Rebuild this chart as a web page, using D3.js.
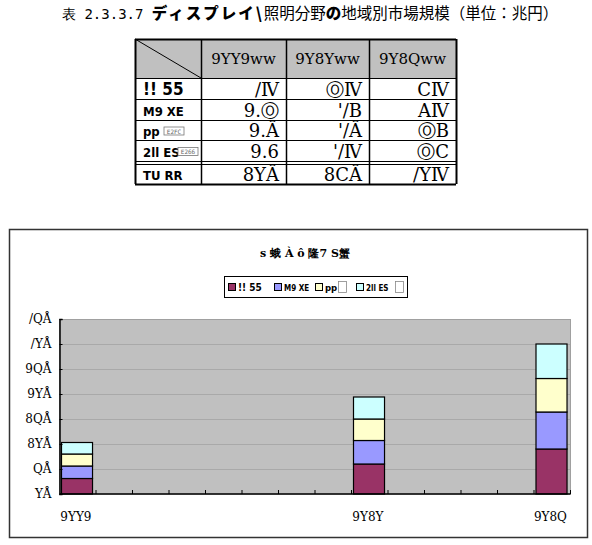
<!DOCTYPE html>
<html><head><meta charset="utf-8">
<script src="https://cdn.jsdelivr.net/npm/d3@7"></script>
<style>body{margin:0;background:#fff}svg{display:block}</style>
</head><body>
<script>
// ---- data ----
const years = ["2002","2003","2004","2005","2006","2007","2008","2009","2010","2011","2012","2013","2014","2015"];
const dataYears = ["2002","2010","2015"];
const xTickLabels = ["9YY9","9Y8Y","9Y8Q"];
const seriesNames = ["!! 55","M9 XE","pp","2ll ES"];
const seriesColors = ["#993366","#9999ff","#ffffcc","#ccffff"];
const s1 = [3.1, 6.0, 9.0];
const s2 = [2.5, 4.7, 7.4];
const s3 = [2.4, 4.3, 6.7];
const s4 = [2.3, 4.4, 6.9];
const yTicks = [0,5,10,15,20,25,30,35];
const yTickLabels = ["YÅ","QÅ","8YÅ","8QÅ","9YÅ","9QÅ","/YÅ","/QÅ"];
const tableHeader = ["9YY9ww","9Y8Yww","9Y8Qww"];
const rowLabels = ["!! 55","M9 XE","pp","2ll ES","TU RR"];
const tableCells = [
  ["/Ⅳ","ⓄⅣ","CⅣ"],
  ["9.Ⓞ","'/B","AⅣ"],
  ["9.Ȃ","'/Ȃ","ⓄB"],
  ["9.6","'/Ⅳ","ⓄC"],
  ["8YȂ","8CȂ","/YⅣ"]
];

const W=592,H=545;
const svg=d3.select("body").append("svg").attr("width",W).attr("height",H);

// ---- title ----
const t=svg.append("text").attr("x",62).attr("y",19).attr("font-size",15.5)
  .attr("font-family","'Noto Sans CJK JP', sans-serif").attr("fill","#000");
t.append("tspan").attr("font-family","'DejaVu Sans Mono', monospace").attr("font-size",14).text("表 2.3.3.7  ");
t.append("tspan").attr("font-weight","900").attr("letter-spacing",2).text("ディスプレイ\\");
t.append("tspan").text("照明分野");
t.append("tspan").attr("font-weight","900").text("の");
t.append("tspan").text("地域別市場規模（単位：兆円）");

// ---- table ----
const colX=[135,201,286,369,456];
const rowY=[39,78,99,120,140,161,164,184];
const tg=svg.append("g");
tg.append("rect").attr("x",colX[0]).attr("y",rowY[0]).attr("width",colX[4]-colX[0]).attr("height",rowY[1]-rowY[0]).attr("fill","#c0c0c0");
tg.append("line").attr("x1",colX[0]).attr("y1",rowY[0]).attr("x2",colX[1]).attr("y2",rowY[1]).attr("stroke","#000").attr("stroke-width",1);
rowY.forEach((yy,i)=>{
  tg.append("line").attr("x1",colX[0]).attr("x2",colX[4]).attr("y1",yy+0.5).attr("y2",yy+0.5)
    .attr("stroke","#000").attr("stroke-width",(i==0||i==7)?2:1);
});
colX.forEach((xx,i)=>{
  tg.append("line").attr("x1",xx+0.5).attr("x2",xx+0.5).attr("y1",rowY[0]).attr("y2",rowY[7])
    .attr("stroke","#000").attr("stroke-width",(i==0||i==4)?2:1.5);
});
tableHeader.forEach((h,i)=>{
  tg.append("text").attr("x",(colX[i+1]+colX[i+2])/2).attr("y",64).attr("text-anchor","middle")
    .attr("font-family","'DejaVu Serif', serif").attr("font-size",15).text(h);
});
const rowMid=[(78+99)/2,(99+120)/2,(120+140)/2,(140+161)/2,(164+184)/2];
rowLabels.forEach((r,i)=>{
  tg.append("text").attr("x",143).attr("y",rowMid[i]+6)
    .attr("font-family","'DejaVu Sans Condensed', 'DejaVu Sans', sans-serif").attr("font-weight","bold")
    .attr("font-size",i==0?17:13).text(r);
});
[[2,"E2FC",164],[3,"E266",178]].forEach(([ri,code,xx])=>{
  tg.append("rect").attr("x",xx).attr("y",rowMid[ri]-3).attr("width",20).attr("height",8).attr("fill","#fff").attr("stroke","#777").attr("stroke-width",0.8);
  tg.append("text").attr("x",xx+10).attr("y",rowMid[ri]+3.5).attr("text-anchor","middle").attr("font-size",6).attr("font-family","'DejaVu Sans Mono', monospace").attr("fill","#666").text(code);
});
tableCells.forEach((row,ri)=>{
  row.forEach((c,ci)=>{
    tg.append("text").attr("x",colX[ci+2]-7).attr("y",rowMid[ri]+7).attr("text-anchor","end")
      .attr("font-family","'DejaVu Serif', serif").attr("font-size",18).text(c);
  });
});

// ---- chart ----
svg.append("rect").attr("x",9.5).attr("y",229.5).attr("width",578).attr("height",308)
  .attr("fill","#fff").attr("stroke","#333").attr("stroke-width",1.5);
svg.append("text").attr("x",305).attr("y",257).attr("text-anchor","middle").attr("font-size",11)
  .attr("font-family","'DejaVu Serif', serif").attr("font-weight","bold").text("s 蛾 À ô 隆7 S蟹");

const lg=svg.append("g");
lg.append("rect").attr("x",224.5).attr("y",276.5).attr("width",183).attr("height",21).attr("fill","#fff").attr("stroke","#000");
const legX=[228,274,315,356];
const legFont=[10,8,9.5,8];
seriesNames.forEach((n,i)=>{
  lg.append("rect").attr("x",legX[i]+0.5).attr("y",283.5).attr("width",7).attr("height",7).attr("fill",seriesColors[i]).attr("stroke","#000");
  lg.append("text").attr("x",legX[i]+10).attr("y",291).attr("font-size",legFont[i])
    .attr("font-family","'DejaVu Sans Condensed', sans-serif").attr("font-weight","bold").text(n);
});
[338,395].forEach(xx=>{
  lg.append("rect").attr("x",xx+0.5).attr("y",281.5).attr("width",8).attr("height",11).attr("fill","#fff").attr("stroke","#888").attr("stroke-width",0.8);
});

const pLeft=59.5,pRight=570.5,pTop=319,pBottom=494;
const x=d3.scaleBand().domain(years).range([pLeft,pRight]).padding(0);
const y=d3.scaleLinear().domain([0,35]).range([pBottom,pTop]);
svg.append("rect").attr("x",pLeft).attr("y",pTop).attr("width",pRight-pLeft).attr("height",pBottom-pTop).attr("fill","#c0c0c0");
svg.append("g").selectAll("line").data(yTicks.slice(1,-1)).join("line")
  .attr("x1",pLeft).attr("x2",pRight).attr("y1",d=>Math.round(y(d))+0.5).attr("y2",d=>Math.round(y(d))+0.5)
  .attr("stroke","#a9a9a9").attr("stroke-width",1);
svg.append("rect").attr("x",pLeft).attr("y",pTop+0.5).attr("width",pRight-pLeft).attr("height",pBottom-pTop-0.5)
  .attr("fill","none").attr("stroke","#a0a0a0").attr("stroke-width",1);

const stackData=dataYears.map((yr,i)=>({year:yr,a:s1[i],b:s2[i],c:s3[i],d:s4[i]}));
const stack=d3.stack().keys(["a","b","c","d"])(stackData);
const bw=x.bandwidth();
svg.append("g").selectAll("g").data(stack).join("g").attr("fill",(d,i)=>seriesColors[i])
  .selectAll("rect").data(d=>d).join("rect")
  .attr("x",d=>x(d.data.year)+2).attr("width",bw*0.85)
  .attr("y",d=>y(d[1])).attr("height",d=>y(d[0])-y(d[1]))
  .attr("stroke","#000").attr("stroke-width",1.2);

const yAxis=d3.axisLeft(y).tickValues(yTicks).tickSize(-3).tickFormat((d,i)=>yTickLabels[i]).tickPadding(8);
const ya=svg.append("g").attr("transform",`translate(${pLeft},0)`).call(yAxis);
ya.select(".domain").attr("stroke","#000").attr("stroke-width",1.5);
ya.selectAll("text").attr("font-family","'DejaVu Serif', serif").attr("font-size",12).attr("fill","#000");

const xAxisG=svg.append("g").attr("transform",`translate(0,${pBottom})`);
xAxisG.append("line").attr("x1",pLeft).attr("x2",pRight).attr("y1",0).attr("y2",0).attr("stroke","#000").attr("stroke-width",1.5);
xAxisG.selectAll("line.t").data(years.slice(1)).join("line").attr("class","t")
  .attr("x1",d=>x(d)).attr("x2",d=>x(d)).attr("y1",0).attr("y2",-4).attr("stroke","#000");
xAxisG.append("line").attr("x1",pRight).attr("x2",pRight).attr("y1",0).attr("y2",-4).attr("stroke","#000");
xAxisG.selectAll("text").data(dataYears).join("text")
  .attr("x",d=>x(d)+bw*0.45).attr("y",27).attr("text-anchor","middle")
  .attr("font-family","'DejaVu Serif', serif").attr("font-size",12)
  .text((d,i)=>xTickLabels[i]);
</script>
</body></html>
